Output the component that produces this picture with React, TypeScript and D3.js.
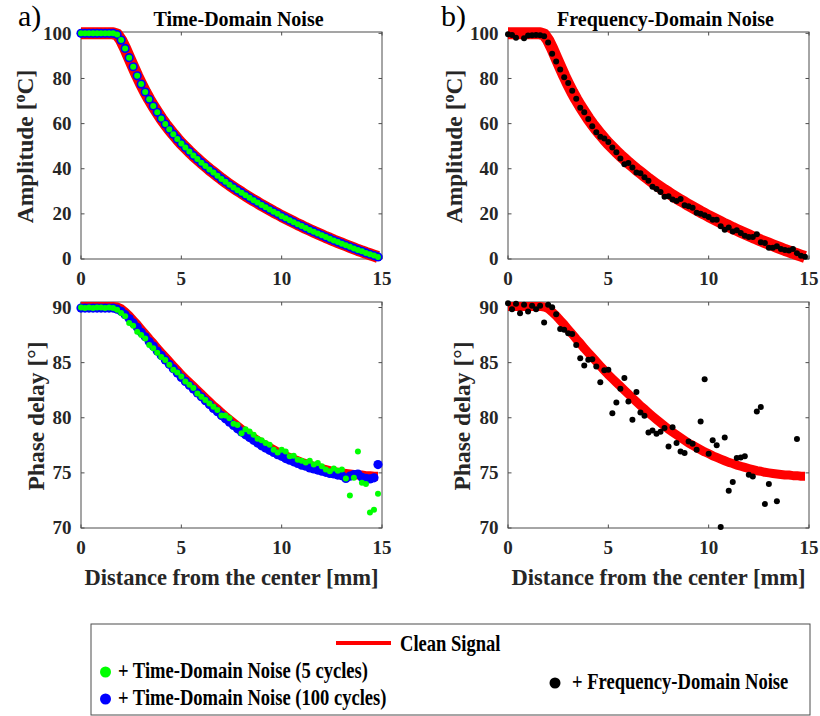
import React from "react";
import * as d3 from "d3";

const FONT = '"Liberation Serif", "Times New Roman", Times, serif';

// distance from the center [mm]
const xGrid = [0, 0.2, 0.4, 0.6, 0.8, 1.0, 1.2, 1.4, 1.6, 1.8, 2.0, 2.2, 2.4, 2.6, 2.8, 3.0, 3.2, 3.4, 3.6, 3.8, 4.0, 4.2, 4.4, 4.6, 4.8, 5.0, 5.2, 5.4, 5.6, 5.8, 6.0, 6.2, 6.4, 6.6, 6.8, 7.0, 7.2, 7.4, 7.6, 7.8, 8.0, 8.2, 8.4, 8.6, 8.8, 9.0, 9.2, 9.4, 9.6, 9.8, 10.0, 10.2, 10.4, 10.6, 10.8, 11.0, 11.2, 11.4, 11.6, 11.8, 12.0, 12.2, 12.4, 12.6, 12.8, 13.0, 13.2, 13.4, 13.6, 13.8, 14.0, 14.2, 14.4, 14.6, 14.8];

// Amplitude [°C]
const ampClean = [100, 100, 100, 100, 100, 100, 100, 100, 100, 99.5, 97.0, 93.3, 89.2, 85.2, 81.2, 77.5, 74.0, 70.8, 67.8, 65.0, 62.3, 59.8, 57.5, 55.3, 53.2, 51.2, 49.4, 47.6, 45.9, 44.3, 42.7, 41.2, 39.7, 38.3, 36.9, 35.5, 34.2, 32.9, 31.7, 30.5, 29.4, 28.2, 27.1, 26.0, 25.0, 23.9, 22.9, 21.9, 20.9, 20.0, 19.0, 18.1, 17.2, 16.3, 15.4, 14.6, 13.7, 12.9, 12.1, 11.3, 10.5, 9.7, 9.0, 8.2, 7.5, 6.8, 6.1, 5.4, 4.7, 4.0, 3.4, 2.7, 2.1, 1.5, 0.9];
const ampTime5 = [100, 100, 100, 100, 100, 100, 100, 100, 100, 99.5, 97.0, 93.3, 89.2, 85.2, 81.2, 77.5, 74.0, 70.8, 67.8, 65.0, 62.3, 59.8, 57.5, 55.3, 53.2, 51.2, 49.4, 47.6, 45.9, 44.3, 42.7, 41.2, 39.7, 38.3, 36.9, 35.5, 34.2, 32.9, 31.7, 30.5, 29.4, 28.2, 27.1, 26.0, 25.0, 23.9, 22.9, 21.9, 20.9, 20.0, 19.0, 18.1, 17.2, 16.3, 15.4, 14.6, 13.7, 12.9, 12.1, 11.3, 10.5, 9.7, 9.0, 8.2, 7.5, 6.8, 6.1, 5.4, 4.7, 4.0, 3.4, 2.7, 2.1, 1.5, 0.9];
const ampTime100 = [100, 100, 100, 100, 100, 100, 100, 100, 100, 99.5, 97.0, 93.3, 89.2, 85.2, 81.2, 77.5, 74.0, 70.8, 67.8, 65.0, 62.3, 59.8, 57.5, 55.3, 53.2, 51.2, 49.4, 47.6, 45.9, 44.3, 42.7, 41.2, 39.7, 38.3, 36.9, 35.5, 34.2, 32.9, 31.7, 30.5, 29.4, 28.2, 27.1, 26.0, 25.0, 23.9, 22.9, 21.9, 20.9, 20.0, 19.0, 18.1, 17.2, 16.3, 15.4, 14.6, 13.7, 12.9, 12.1, 11.3, 10.5, 9.7, 9.0, 8.2, 7.5, 6.8, 6.1, 5.4, 4.7, 4.0, 3.4, 2.7, 2.1, 1.5, 0.9];
const ampFreq = [99.6, 99.3, 98.0, 100.8, 97.8, 99.0, 99.2, 99.3, 99.2, 98.7, 96.0, 91.0, 87.5, 84.0, 80.5, 78.0, 74.6, 71.0, 67.0, 65.0, 62.0, 58.8, 56.2, 54.2, 53.4, 51.8, 49.4, 47.3, 44.5, 42.0, 42.5, 40.6, 38.3, 38.0, 36.2, 34.7, 32.0, 31.0, 29.7, 27.6, 27.8, 26.4, 25.7, 26.6, 23.8, 23.4, 22.7, 20.5, 20.0, 19.4, 18.6, 17.4, 17.4, 14.5, 13.0, 14.0, 12.2, 12.7, 11.5, 10.3, 9.7, 9.7, 11.0, 7.4, 7.1, 5.0, 5.0, 5.6, 4.4, 4.0, 3.8, 4.4, 2.6, 1.4, 1.0];

// Phase delay [°]
const phaseClean = [90.1, 90.1, 90.1, 90.1, 90.1, 90.1, 90.1, 90.1, 90.1, 90.05, 89.9, 89.6, 89.25, 88.85, 88.45, 88.0, 87.6, 87.15, 86.75, 86.3, 85.9, 85.5, 85.1, 84.7, 84.3, 83.9, 83.55, 83.2, 82.85, 82.5, 82.15, 81.8, 81.45, 81.1, 80.8, 80.45, 80.15, 79.85, 79.55, 79.25, 78.95, 78.7, 78.45, 78.2, 77.95, 77.7, 77.5, 77.3, 77.1, 76.9, 76.75, 76.55, 76.4, 76.25, 76.1, 75.95, 75.85, 75.7, 75.6, 75.5, 75.4, 75.3, 75.2, 75.15, 75.05, 75.0, 74.95, 74.9, 74.85, 74.8, 74.8, 74.75, 74.75, 74.7, 74.7];
const phaseTime100 = [89.95, 89.95, 89.95, 89.95, 89.95, 89.95, 89.95, 89.95, 89.95, 89.85, 89.65, 89.35, 89.0, 88.6, 88.2, 87.75, 87.35, 86.9, 86.5, 86.05, 85.65, 85.25, 84.85, 84.45, 84.05, 83.65, 83.3, 82.95, 82.6, 82.25, 81.9, 81.55, 81.2, 80.85, 80.55, 80.2, 79.9, 79.6, 79.3, 79.0, 78.7, 78.45, 78.2, 77.95, 77.7, 77.45, 77.25, 77.05, 76.85, 76.65, 76.5, 76.3, 76.15, 76.0, 75.85, 75.7, 75.6, 75.45, 75.35, 75.25, 75.15, 75.05, 74.95, 74.9, 74.8, 74.75, 74.5, 74.7, 74.85, 74.9, 74.6, 74.5, 74.45, 74.55, 75.75];
const phaseTime5 = [90.0, 89.95, 90.0, 89.95, 90.0, 90.0, 89.95, 90.0, 89.95, 89.8, 89.5, 89.2, 88.6, 88.35, 87.8, 87.5, 87.2, 86.6, 86.3, 85.9, 85.5, 85.25, 84.8, 84.35, 84.1, 83.75, 83.3, 83.0, 82.7, 82.2, 81.9, 81.6, 81.3, 81.0, 80.7, 80.2, 80.2, 79.95, 79.45, 79.35, 78.6, 78.95, 78.75, 78.45, 78.1, 77.95, 77.7, 77.55, 77.1, 76.85, 77.1, 76.95, 76.5, 76.55, 76.2, 76.1, 75.95, 76.1, 75.75, 75.9, 75.6, 75.3, 75.15, 75.4, 75.2, 75.3, 74.5, 72.95, 74.55, 76.95, 74.1, 74.0, 71.4, 71.65, 73.1];
const phaseFreq = [90.39, 89.85, 90.33, 89.49, 90.24, 89.64, 90.15, 89.85, 90.15, 88.64, 90.24, 90.03, 89.4, 88.04, 87.98, 87.67, 87.6, 86.6, 85.4, 84.74, 85.26, 85.3, 84.65, 83.23, 84.3, 84.35, 80.42, 81.39, 82.63, 83.6, 81.48, 79.82, 82.33, 80.48, 80.18, 78.67, 78.85, 78.55, 78.73, 79.06, 77.4, 79.15, 77.7, 76.95, 76.8, 77.85, 77.64, 77.1, 79.67, 83.5, 76.74, 77.95, 77.5, 70.09, 78.22, 73.38, 74.17, 76.34, 76.4, 76.5, 74.83, 74.68, 80.57, 80.97, 72.17, 73.99, 68.5, 72.42, 67.5, 65.9, 68.8, 69.2, 78.07, 66.4, 64.0];

const xTicks = [0, 5, 10, 15];
const ampTicks = [0, 20, 40, 60, 80, 100];
const phaseTicks = [70, 75, 80, 85, 90];

const RED = "#ff0000";
const GREEN = "#00ff00";
const BLUE = "#0000ff";
const BLACK = "#000000";

type Scatter = { values: number[]; color: string; r: number };

type PanelProps = {
  left: number; top: number; width: number; height: number;
  yDomain: [number, number]; yTicks: number[];
  clean: number[]; cleanWidth: number;
  scatters: Scatter[];
  yLabel: React.ReactNode; yLabelX: number;
  xLabel?: string; title?: string; letter?: string; letterX?: number;
};

function Panel(p: PanelProps) {
  const x = d3.scaleLinear().domain([0, 15]).range([p.left, p.left + p.width]);
  const y = d3.scaleLinear().domain(p.yDomain).range([p.top + p.height, p.top]);
  const line = d3.line<number>().x((_, i) => x(xGrid[i])).y((v) => y(v));
  const right = p.left + p.width;
  const bottom = p.top + p.height;
  const tk = 3.5;
  const axisColor = "#4d4d4d";
  return (
    <g>
      <rect x={p.left} y={p.top} width={p.width} height={p.height} fill="none" stroke={axisColor} strokeWidth={1} />
      {p.yTicks.map((t) => (
        <g key={"y" + t}>
          <line x1={p.left} x2={p.left + tk} y1={y(t)} y2={y(t)} stroke={axisColor} />
          <line x1={right} x2={right - tk} y1={y(t)} y2={y(t)} stroke={axisColor} />
          <text x={p.left - 9.5} y={y(t)} dy="0.34em" textAnchor="end" fontSize={19} fontWeight="bold" fill="#262626">{t}</text>
        </g>
      ))}
      {xTicks.map((t) => (
        <g key={"x" + t}>
          <line x1={x(t)} x2={x(t)} y1={bottom} y2={bottom - tk} stroke={axisColor} />
          <line x1={x(t)} x2={x(t)} y1={p.top} y2={p.top + tk} stroke={axisColor} />
          <text x={x(t)} y={bottom + 25.5} textAnchor="middle" fontSize={19} fontWeight="bold" fill="#262626">{t}</text>
        </g>
      ))}
      <path d={line(p.clean) || ""} fill="none" stroke={RED} strokeWidth={p.cleanWidth} strokeLinejoin="round" />
      {p.scatters.map((s, si) => (
        <g key={si}>
          {s.values.map((v, i) =>
            v >= p.yDomain[0] && v <= p.yDomain[1] ? (
              <circle key={i} cx={x(xGrid[i])} cy={y(v)} r={s.r} fill={s.color} />
            ) : null
          )}
        </g>
      ))}
      <text transform={`translate(${p.yLabelX},${p.top + p.height / 2 + 1}) rotate(-90)`} textAnchor="middle" fontSize={23.5} fontWeight="bold" fill="#262626">
        {p.yLabel}
      </text>
      {p.xLabel ? (
        <text x={(p.left + right) / 2} y={585} textAnchor="middle" fontSize={22.5} fontWeight="bold" fill="#262626">{p.xLabel}</text>
      ) : null}
      {p.title ? (
        <text x={(p.left + right) / 2 + 7} y={25.5} textAnchor="middle" fontSize={20} fontWeight="bold" fill="#000">{p.title}</text>
      ) : null}
      {p.letter ? (
        <text x={p.letterX} y={26} fontSize={30} fill="#000">{p.letter}</text>
      ) : null}
    </g>
  );
}

const ampLabel = (
  <>
    Amplitude [<tspan dy={-8} fontSize={16}>o</tspan><tspan dy={8}>C]</tspan>
  </>
);
const phaseLabel = <>Phase delay [°]</>;

function LegendText({ x, y, children }: { x: number; y: number; children: React.ReactNode }) {
  return (
    <g transform={`translate(${x},${y}) scale(0.79,1)`}>
      <text x={0} y={0} fontSize={23.5} fontWeight="bold" fill="#000">{children}</text>
    </g>
  );
}

export default function App() {
  return (
    <svg width={820} height={716} style={{ position: "absolute", left: 0, top: 0, background: "#fff" }} fontFamily={FONT}>
      <rect x={0} y={0} width={820} height={716} fill="#fff" />
      <Panel left={81} top={32} width={301} height={227} yDomain={[0, 100.6]} yTicks={ampTicks}
        clean={ampClean} cleanWidth={12}
        scatters={[{ values: ampTime100, color: BLUE, r: 4.6 }, { values: ampTime5, color: GREEN, r: 3 }]}
        yLabel={ampLabel} yLabelX={33} title="Time-Domain Noise" letter="a)" letterX={18} />
      <Panel left={81} top={302} width={301} height={226} yDomain={[70, 90.5]} yTicks={phaseTicks}
        clean={phaseClean} cleanWidth={9}
        scatters={[{ values: phaseTime100, color: BLUE, r: 4.6 }, { values: phaseTime5, color: GREEN, r: 3 }]}
        yLabel={phaseLabel} yLabelX={43.5} xLabel="Distance from the center [mm]" />
      <Panel left={508} top={32} width={301} height={227} yDomain={[0, 100.6]} yTicks={ampTicks}
        clean={ampClean} cleanWidth={12}
        scatters={[{ values: ampFreq, color: BLACK, r: 3 }]}
        yLabel={ampLabel} yLabelX={461.5} title="Frequency-Domain Noise" letter="b)" letterX={441} />
      <Panel left={508} top={302} width={301} height={226} yDomain={[70, 90.5]} yTicks={phaseTicks}
        clean={phaseClean} cleanWidth={9}
        scatters={[{ values: phaseFreq, color: BLACK, r: 3 }]}
        yLabel={phaseLabel} yLabelX={470} xLabel="Distance from the center [mm]" />

      {/* legend */}
      <rect x={91} y={624} width={719} height={91} fill="#fff" stroke="#4d4d4d" strokeWidth={1} />
      <line x1={336} x2={391} y1={643} y2={643} stroke={RED} strokeWidth={4} />
      <LegendText x={400} y={650.5}>Clean Signal</LegendText>
      <circle cx={105.5} cy={672} r={5.5} fill={GREEN} />
      <LegendText x={118} y={678}>+ Time-Domain Noise (5 cycles)</LegendText>
      <circle cx={105.5} cy={699} r={5.5} fill={BLUE} />
      <LegendText x={118} y={705}>+ Time-Domain Noise (100 cycles)</LegendText>
      <circle cx={555} cy={683} r={5.5} fill={BLACK} />
      <LegendText x={572} y={689}>+ Frequency-Domain Noise</LegendText>
    </svg>
  );
}
